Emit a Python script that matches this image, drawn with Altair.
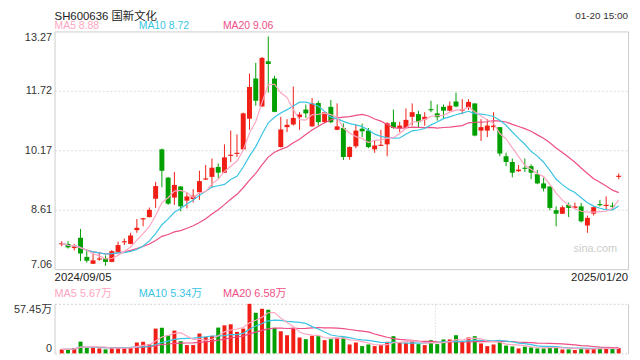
import altair as alt
import pandas as pd

# ---------------- data ----------------
opens = [7.71, 7.72, 7.61, 7.88, 7.38, 7.20, 7.31, 7.34, 7.25, 7.51,
         7.76, 7.72, 8.08, 8.36, 8.42, 8.90, 10.19, 9.45, 8.93, 9.22,
         8.85, 8.89, 9.07, 9.40, 9.47, 9.73, 9.58, 10.02, 10.07, 10.19,
         10.99, 12.04, 11.31, 12.49, 12.04, 10.25, 10.77, 10.84, 11.03, 11.23,
         10.79, 11.40, 10.90, 11.30, 10.70, 10.75, 9.99, 10.27, 10.73, 10.68,
         10.19, 10.28, 10.32, 10.90, 10.75, 10.75, 11.04, 11.11, 10.97, 11.24,
         11.13, 11.30, 11.20, 11.44, 11.20, 11.28, 11.39, 10.68, 10.68, 10.77,
         10.77, 10.01, 9.86, 9.62, 9.71, 9.75, 9.54, 9.30, 9.22, 8.60,
         8.51, 8.74, 8.66, 8.70, 8.20, 8.51, 8.76, 8.71, 8.72, 9.47]
closes = [7.74, 7.63, 7.65, 7.47, 7.28, 7.29, 7.34, 7.25, 7.53, 7.69,
          7.79, 7.94, 8.14, 8.39, 8.61, 9.23, 9.63, 8.77, 9.26, 8.70,
          8.96, 8.98, 9.36, 9.43, 9.71, 9.58, 9.98, 10.05, 10.10, 11.13,
          11.82, 11.46, 12.58, 12.42, 11.17, 10.71, 10.83, 11.01, 11.10, 11.13,
          11.39, 10.90, 11.16, 10.90, 10.79, 9.99, 10.25, 10.68, 10.66, 10.25,
          10.29, 10.31, 10.87, 10.75, 10.81, 10.96, 11.16, 10.90, 11.04, 11.21,
          11.03, 11.20, 11.33, 11.31, 11.23, 11.43, 10.55, 10.77, 10.81, 10.81,
          10.08, 9.86, 9.58, 9.66, 9.68, 9.58, 9.30, 9.17, 8.66, 8.51,
          8.68, 8.66, 8.70, 8.31, 8.40, 8.68, 8.73, 8.74, 8.69, 9.50]
highs = [7.79, 7.79, 7.72, 8.11, 7.58, 7.47, 7.47, 7.42, 7.56, 7.78,
         7.86, 8.01, 8.37, 8.40, 8.67, 9.34, 10.21, 9.47, 9.60, 9.23,
         9.06, 9.15, 9.63, 9.78, 9.95, 9.82, 10.32, 10.68, 10.58, 11.15,
         12.17, 12.45, 12.60, 13.14, 12.11, 11.04, 10.98, 11.83, 11.16, 11.36,
         11.53, 11.46, 11.17, 11.48, 11.39, 10.87, 10.27, 10.84, 10.86, 10.75,
         10.42, 10.70, 10.90, 11.23, 10.91, 11.26, 11.39, 11.20, 11.16, 11.46,
         11.36, 11.36, 11.44, 11.67, 11.50, 11.50, 11.39, 10.98, 10.98, 11.16,
         10.77, 10.10, 9.95, 9.78, 9.95, 9.80, 9.65, 9.45, 9.22, 8.70,
         8.72, 8.80, 8.80, 8.79, 8.46, 8.70, 8.87, 8.96, 8.80, 9.56]
lows = [7.66, 7.60, 7.55, 7.27, 7.23, 7.20, 7.28, 7.15, 7.24, 7.50,
        7.69, 7.71, 8.01, 8.18, 8.41, 8.66, 9.20, 8.74, 8.74, 8.57,
        8.65, 8.80, 8.87, 9.39, 9.20, 9.43, 9.57, 9.86, 9.99, 10.17,
        10.70, 11.33, 11.30, 11.67, 11.16, 10.24, 10.64, 10.81, 10.70, 11.01,
        10.78, 10.81, 10.87, 10.87, 10.69, 9.91, 9.92, 10.22, 10.51, 10.22,
        10.10, 10.28, 10.01, 10.73, 10.64, 10.73, 10.81, 10.77, 10.81, 11.16,
        10.94, 10.98, 11.18, 11.29, 11.11, 11.22, 10.53, 10.41, 10.51, 10.68,
        10.01, 9.75, 9.46, 9.60, 9.60, 9.41, 9.28, 9.09, 8.60, 8.18,
        8.50, 8.42, 8.63, 8.28, 8.01, 8.46, 8.70, 8.63, 8.60, 9.41]
volumes = [4.6, 4.6, 6.0, 13.6, 6.5, 6.5, 5.7, 4.6, 6.5, 6.5,
           6.5, 7.0, 12.6, 13.4, 10.5, 28.7, 29.7, 21.0, 26.4, 14.1,
           9.6, 9.6, 23.0, 19.2, 20.3, 29.9, 32.5, 33.7, 24.9, 28.7,
           57.45, 47.1, 51.7, 50.6, 29.5, 25.6, 21.0, 29.5, 18.4, 16.5,
           20.3, 19.9, 15.3, 16.5, 18.0, 18.4, 10.3, 12.6, 8.4, 10.3,
           8.4, 9.6, 13.4, 19.9, 12.3, 12.3, 14.1, 10.7, 9.6, 15.3,
           10.7, 16.1, 16.1, 21.0, 13.4, 18.4, 19.9, 11.5, 8.4, 10.3,
           14.5, 9.0, 8.0, 5.7, 7.7, 6.9, 5.7, 5.7, 7.7, 7.7,
           4.6, 4.6, 3.8, 6.0, 6.0, 5.6, 5.6, 5.6, 5.6, 6.0]
price_ticks = [7.06, 8.61, 10.17, 11.72, 13.27]
vol_ticks = [0, 57.45]
separators = [30.9, 60.7]          # dotted separators in the volume panel (candle index)
title_text = "SH600636 国新文化"
time_text = "01-20 15:00"
start_date, end_date = "2024/09/05", "2025/01/20"
price_legend = ["MA5 8.88", "MA10 8.72", "MA20 9.06"]
vol_legend = ["MA5 5.67万", "MA10 5.34万", "MA20 6.58万"]

# ---------------- styling ----------------
RED, GREEN = "#f01e14", "#00a000"
MA5C, MA10C, MA20C = "#ffa5c0", "#3cc4e4", "#ee4f86"
BORDER = "#cccccc"
FONT = "Liberation Sans, Arial, Noto Sans CJK SC, sans-serif"
W, H = 579, 325

df = pd.DataFrame({
    "i": list(range(1, len(closes) + 1)),
    "open": opens, "high": highs, "low": lows, "close": closes, "vol": volumes,
})
df["dir"] = ["up" if c >= o else "down" for o, c in zip(opens, closes)]

base = alt.Chart(df)
xs = alt.Scale(domain=[0.64, 90.7], nice=False, zero=False)
X = alt.X("i:Q", scale=xs, axis=None)
col = alt.Color("dir:N", scale=alt.Scale(domain=["up", "down"], range=[RED, GREEN]), legend=None)

price_y = alt.Scale(domain=[price_ticks[0], price_ticks[-1]], range=[240, 0], nice=False, zero=False)
vol_y = alt.Scale(domain=[vol_ticks[0], vol_ticks[-1]], range=[325, 275], nice=False, zero=False)

price_axis_left = alt.Axis(
    values=price_ticks, format=".2f", labelFlush=True, ticks=False, labelPadding=3,
    labelFontSize=11, labelColor="#333333", labelFont=FONT,
    domain=True, domainColor=BORDER, title=None,
    grid=True,
    gridDash={"condition": {"test": "datum.value < 7.07 || datum.value > 13.26", "value": []}, "value": [2, 2]},
    gridColor={"condition": {"test": "datum.value < 7.07 || datum.value > 13.26", "value": BORDER}, "value": "#dddddd"},
)
price_axis_right = alt.Axis(orient="right", labels=False, ticks=False, grid=False,
                            domain=True, domainColor=BORDER, title=None)

wick = base.mark_rule(strokeWidth=1).encode(
    x=X, y=alt.Y("low:Q", scale=price_y, axis=price_axis_left), y2="high:Q", color=col)
body = base.mark_bar(size=5).encode(
    x=X, y=alt.Y("open:Q", scale=price_y, axis=price_axis_right), y2="close:Q", color=col)


def ma_line(field, n, color, scale):
    return base.transform_window(
        ma=f"mean({field})", frame=[-(n - 1), 0], sort=[alt.SortField("i")]
    ).mark_line(color=color, strokeWidth=1.2).encode(
        x=X, y=alt.Y("ma:Q", scale=scale, axis=None))


price = alt.layer(
    wick, body,
    ma_line("close", 20, MA20C, price_y),
    ma_line("close", 10, MA10C, price_y),
    ma_line("close", 5, MA5C, price_y),
).resolve_axis(y="independent")

vol_axis_left = alt.Axis(
    values=vol_ticks, labelExpr="datum.value == 0 ? '0' : format(datum.value, '.2f') + '万'",
    labelFlush=True, ticks=False, labelPadding=3, labelFontSize=11, labelColor="#333333",
    labelFont=FONT, domain=True, domainColor=BORDER, title=None,
    grid=True, gridDash=[2, 2], gridColor="#d0d0d0")
vol_axis_right = alt.Axis(orient="right", labels=False, ticks=False, grid=False,
                          domain=True, domainColor=BORDER, title=None)

vbar = base.mark_bar(size=4).encode(
    x=X, y=alt.Y("vol:Q", scale=vol_y, axis=vol_axis_left), color=col)
sep_df = pd.DataFrame({"s": separators, "lo": [0] * len(separators), "hi": [max(volumes)] * len(separators)})
vsep = alt.Chart(sep_df).mark_rule(color="#cfcfcf", strokeDash=[1, 2], strokeWidth=1).encode(
    x=alt.X("s:Q", scale=xs, axis=None),
    y=alt.Y("lo:Q", scale=vol_y, axis=vol_axis_right), y2="hi:Q")

vol = alt.layer(
    vsep, vbar,
    ma_line("vol", 20, MA20C, vol_y),
    ma_line("vol", 10, MA10C, vol_y),
    ma_line("vol", 5, MA5C, vol_y),
).resolve_axis(y="independent")


def label(txt, x, y, color, size, align="left"):
    return alt.Chart(alt.Data(values=[{}])).mark_text(
        text=txt, align=align, baseline="alphabetic", color=color, fontSize=size, font=FONT
    ).encode(x=alt.value(x), y=alt.value(y))


texts = [
    label(title_text, 0, -12, "#222222", 11.5),
    label(time_text, W, -13, "#333333", 10),
    label(price_legend[0], 0, -2, MA5C, 10.5),
    label(price_legend[1], 85, -2, MA10C, 10.5),
    label(price_legend[2], 170, -2, MA20C, 10.5),
    label(start_date, 0, 252, "#222222", 11.5),
    label(end_date, W, 252, "#222222", 11.5, "right"),
    label(vol_legend[0], 0, 268, MA5C, 11),
    label(vol_legend[1], 85, 268, MA10C, 11),
    label(vol_legend[2], 170, 268, MA20C, 11),
    label("sina.com", 568, 223, "#cccccc", 11, "right"),
]
texts[1] = label(time_text, W, -13, "#333333", 10, "right")

chart = alt.layer(price, vol, *texts).resolve_scale(y="independent").properties(
    width=W, height=H,
    padding={"left": 47, "top": 22, "right": 4, "bottom": 0},
    autosize=alt.AutoSizeParams(type="none"),
).configure_view(stroke=None)

chart.save("out.html", embed_options={"renderer": "svg", "actions": False})
